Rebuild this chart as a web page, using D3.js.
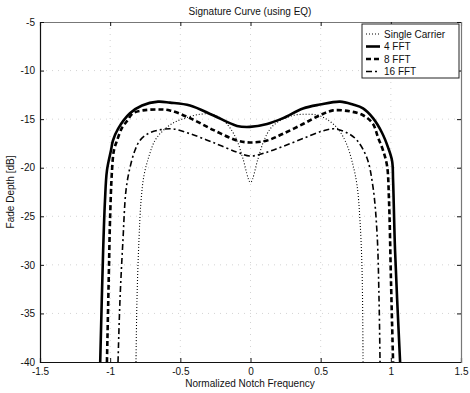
<!DOCTYPE html>
<html><head><meta charset="utf-8">
<script src="https://cdn.jsdelivr.net/npm/d3@7"></script>
<style>
body{margin:0;background:#fff;}
text{font-family:"Liberation Sans",Arial,sans-serif;fill:#111;}
</style></head>
<body>
<svg id="chart" width="470" height="393"></svg>
<script>
const title = "Signature Curve (using EQ)";
const xLabel = "Normalized Notch Frequency";
const yLabel = "Fade Depth [dB]";
const xTicks = [-1.5,-1,-0.5,0,0.5,1,1.5];
const yTicks = [-5,-10,-15,-20,-25,-30,-35,-40];
const seriesNames = ["Single Carrier","4 FFT","8 FFT","16 FFT"];

// Single Carrier (dotted)
const scF = [-0.816,-0.809,-0.795,-0.780,-0.759,-0.723,-0.681,-0.624,-0.552,-0.467,-0.360,-0.274,-0.203,-0.146,-0.096,-0.053,0,0.053,0.096,0.146,0.217,0.310,0.396,0.481,0.552,0.623,0.680,0.723,0.759,0.780,0.795,0.802];
const scDB = [-40,-33.6,-27.5,-23.4,-20.8,-18.8,-17.2,-16.2,-15.4,-14.9,-14.5,-14.5,-15.0,-15.9,-17.2,-19.1,-21.5,-19.1,-17.2,-15.9,-15.1,-14.6,-14.5,-14.6,-15.1,-16.0,-17.4,-19.3,-21.8,-25.4,-30.6,-40];
// 4 FFT (solid)
const f4F = [-1.071,-1.050,-1.037,-1.023,-0.994,-0.980,-0.944,-0.859,-0.773,-0.659,-0.574,-0.431,-0.267,-0.096,-0.004,0.118,0.232,0.374,0.495,0.638,0.730,0.802,0.873,0.937,0.980,1.009,1.016,1.030,1.066];
const f4DB = [-40,-28.5,-23.4,-20.3,-18.2,-17.2,-16.0,-14.4,-13.6,-13.2,-13.3,-13.6,-14.6,-15.7,-15.8,-15.5,-14.9,-13.9,-13.5,-13.2,-13.5,-13.9,-14.9,-16.4,-17.9,-19.3,-21.3,-28.5,-40];
// 8 FFT (dashed)
const f8F = [-1.023,-1.009,-1.001,-0.987,-0.973,-0.951,-0.916,-0.880,-0.838,-0.766,-0.666,-0.574,-0.431,-0.267,-0.096,-0.004,0.118,0.232,0.374,0.495,0.588,0.709,0.802,0.873,0.909,0.944,0.973,0.987,1.001,1.016];
const f8DB = [-40,-30.6,-25.4,-20.3,-18.2,-17.2,-15.9,-15.2,-14.4,-14.1,-14.0,-14.1,-14.9,-16.1,-17.2,-17.4,-17.2,-16.5,-15.5,-14.6,-14.1,-14.2,-14.6,-15.5,-16.9,-18.2,-19.8,-23.4,-31.6,-40];
// 16 FFT (dash-dot)
const f16F = [-0.944,-0.930,-0.909,-0.887,-0.859,-0.823,-0.788,-0.731,-0.645,-0.552,-0.431,-0.267,-0.096,-0.004,0.118,0.232,0.374,0.517,0.602,0.700,0.760,0.830,0.873,0.902,0.916,0.923];
const f16DB = [-40,-33.6,-27.5,-22.3,-20.0,-18.2,-17.2,-16.5,-16.1,-16.0,-16.5,-17.4,-18.4,-18.8,-18.4,-17.8,-17.0,-16.2,-16.0,-16.5,-17.2,-19.0,-22.0,-26.8,-33.6,-40];

const svg = d3.select("#chart");
svg.append("rect").attr("width",470).attr("height",393).attr("fill","#fff");
const L=40,R=461,T=22,B=362;
const x = d3.scaleLinear().domain([-1.5,1.5]).range([L,R]);
const y = d3.scaleLinear().domain([-40,-5]).range([B,T]);

// grid
const g = svg.append("g");
xTicks.slice(1,-1).forEach(t=>g.append("line").attr("x1",x(t)).attr("x2",x(t)).attr("y1",T).attr("y2",B)
  .attr("stroke","#c8c8c8").attr("stroke-width",0.8).attr("stroke-dasharray","1,5"));
yTicks.slice(1,-1).forEach(t=>g.append("line").attr("x1",L).attr("x2",R).attr("y1",y(t)).attr("y2",y(t))
  .attr("stroke","#c8c8c8").attr("stroke-width",0.8).attr("stroke-dasharray","1,5"));

// axes
const xAx = svg.append("g").attr("transform",`translate(0,${B})`)
  .call(d3.axisBottom(x).tickValues(xTicks).tickSize(-4).tickPadding(6).tickFormat(d=>String(d)));
const xAxT = svg.append("g").attr("transform",`translate(0,${T})`)
  .call(d3.axisTop(x).tickValues(xTicks).tickSize(-4).tickFormat(""));
const yAx = svg.append("g").attr("transform",`translate(${L},0)`)
  .call(d3.axisLeft(y).tickValues(yTicks).tickSize(-4).tickPadding(5).tickFormat(d=>String(d)));
const yAxR = svg.append("g").attr("transform",`translate(${R},0)`)
  .call(d3.axisRight(y).tickValues(yTicks).tickSize(-4).tickFormat(""));
[xAx,xAxT,yAx,yAxR].forEach(a=>{
  a.selectAll("path").attr("stroke","#111").attr("stroke-width",1.2);
  a.selectAll("line").attr("stroke","#111");
  a.selectAll("text").attr("font-size","10px").attr("fill","#111").attr("font-family","Liberation Sans, Arial, sans-serif");
});
xAxT.select("path").attr("stroke","#777");
yAxR.select("path").attr("stroke","#777");

// lines
const line = d3.line().x(d=>x(d[0])).y(d=>y(d[1])).curve(d3.curveCatmullRom.alpha(0.5));
const series = [
  {name:seriesNames[0], f:scF, v:scDB, w:1.1, dash:"1,2"},
  {name:seriesNames[1], f:f4F, v:f4DB, w:2.6, dash:null},
  {name:seriesNames[2], f:f8F, v:f8DB, w:2.6, dash:"5,3"},
  {name:seriesNames[3], f:f16F, v:f16DB, w:1.6, dash:"6,3,2,3"}
];
svg.append("clipPath").attr("id","c").append("rect").attr("x",L).attr("y",T).attr("width",R-L).attr("height",B-T);
series.forEach(s=>{
  const pts = s.f.map((f,i)=>[f,s.v[i]]);
  svg.append("path").datum(pts).attr("d",line).attr("fill","none").attr("stroke","#000")
    .attr("stroke-width",s.w).attr("stroke-dasharray",s.dash).attr("clip-path","url(#c)");
});

// legend
const lg = svg.append("g");
const lx=362, ly=24, lw=97, lh=54;
lg.append("rect").attr("x",lx).attr("y",ly).attr("width",lw).attr("height",lh).attr("fill","#fff").attr("stroke","#222").attr("stroke-width",1);
series.forEach((s,i)=>{
  const yy = ly+10+i*12.5;
  lg.append("line").attr("x1",lx+4).attr("x2",lx+18).attr("y1",yy).attr("y2",yy).attr("stroke","#000")
    .attr("stroke-width",s.w).attr("stroke-dasharray",s.dash);
  lg.append("text").attr("x",lx+22).attr("y",yy+3.5).attr("font-size","10px").text(s.name);
});

// titles
svg.append("text").attr("x",250).attr("y",15).attr("text-anchor","middle").attr("font-size","10px").text(title);
svg.append("text").attr("x",250).attr("y",387).attr("text-anchor","middle").attr("font-size","10px").text(xLabel);
svg.append("text").attr("transform","translate(14,192) rotate(-90)").attr("text-anchor","middle").attr("font-size","10px").text(yLabel);
</script>
</body></html>
